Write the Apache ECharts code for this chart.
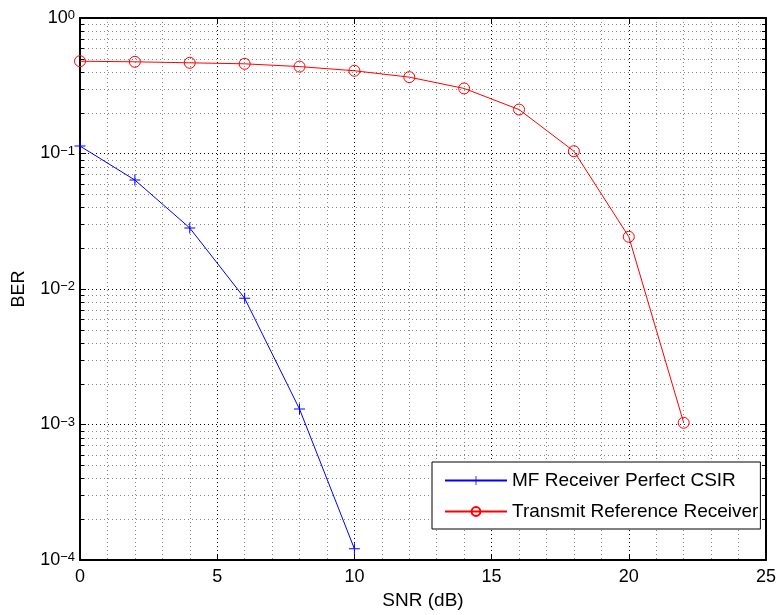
<!DOCTYPE html>
<html>
<head>
<meta charset="utf-8">
<script src="https://cdn.jsdelivr.net/npm/echarts@6/dist/echarts.min.js"></script>
<style>
html,body{margin:0;padding:0;background:#fff;}
#c{width:780px;height:615px;}
</style>
</head>
<body>
<div id="c"></div>
<script>
// ---- data ----
const mfSnr = [0, 2, 4, 6, 8, 10];
const mfBer = [0.1135, 0.0637, 0.0282, 0.00855, 0.0013, 0.000121];
const trSnr = [0, 2, 4, 6, 8, 10, 12, 14, 16, 18, 20, 22];
const trBer = [0.48, 0.475, 0.467, 0.459, 0.438, 0.408, 0.366, 0.302, 0.211, 0.104, 0.0243, 0.00103];
const seriesNames = ['MF Receiver Perfect CSIR', 'Transmit Reference Receiver'];
const xTicks = [0, 5, 10, 15, 20, 25];
const yDecades = [-4, -3, -2, -1, 0];
const minorMult = [2, 3, 4, 5, 6, 7, 8, 9];

const X_MIN = xTicks[0], X_MAX = xTicks[xTicks.length - 1];
const minorVals = [];
yDecades.slice(0, -1).forEach(d => minorMult.forEach(m => minorVals.push(m * Math.pow(10, d))));

const font = 'Liberation Sans, Arial, Helvetica, sans-serif';
const chart = echarts.init(document.getElementById('c'), null, {renderer: 'canvas'});

const plusPath = 'path://M0,4.55H10V5.45H0Z M4.55,0H5.45V10H4.55Z';

function yLabel(v) {
  const e = Math.round(Math.log10(v));
  return '{b|10}{s|' + (e === 0 ? '0' : '\u2212' + (-e)) + '}';
}

const commonX = {
  type: 'value', min: X_MIN, max: X_MAX, interval: 5,
  axisLine: {show: true, onZero: false, lineStyle: {color: '#000', width: 2}},
  axisTick: {show: true, inside: true, length: 6, lineStyle: {color: '#000'}},
};
const commonY = {
  type: 'log', logBase: 10, min: 1e-4, max: 1, interval: 1,
  axisLine: {show: true, onZero: false, lineStyle: {color: '#000', width: 2}},
  axisTick: {show: true, inside: true, length: 6, lineStyle: {color: '#000'}},
};

const option = {
  animation: false,
  backgroundColor: '#fff',
  textStyle: {fontFamily: font},
  grid: {left: 80, right: 14, top: 18, bottom: 53, containLabel: false},
  xAxis: [
    Object.assign({}, commonX, {
      position: 'bottom',
      name: 'SNR (dB)', nameLocation: 'middle', nameGap: 31,
      nameTextStyle: {fontSize: 19, color: '#000', fontFamily: font},
      axisLabel: {show: true, fontSize: 18, color: '#000', margin: 8, fontFamily: font},
      splitLine: {show: true, lineStyle: {color: '#000', type: [1, 3], width: 1}},
      minorTick: {show: false, splitNumber: 5},
      minorSplitLine: {show: true, lineStyle: {color: '#888', type: [1, 3], width: 1}}
    }),
    Object.assign({}, commonX, {
      position: 'top',
      axisLabel: {show: false},
      splitLine: {show: false}
    })
  ],
  yAxis: [
    Object.assign({}, commonY, {
      position: 'left',
      name: 'BER', nameLocation: 'middle', nameGap: 52, nameRotate: 90,
      nameTextStyle: {fontSize: 18, color: '#000', fontFamily: font},
      axisLabel: {
        show: true, margin: 5, formatter: yLabel,
        rich: {
          b: {fontSize: 18, color: '#000', fontFamily: font, lineHeight: 18},
          s: {fontSize: 13, color: '#000', fontFamily: font, verticalAlign: 'top', lineHeight: 13, padding: [0, 0, 6, 0]}
        }
      },
      splitLine: {show: true, lineStyle: {color: '#000', type: [1, 3], width: 1}}
    }),
    Object.assign({}, commonY, {
      position: 'right',
      axisLabel: {show: false},
      splitLine: {show: false}
    })
  ],
  legend: {
    orient: 'vertical', left: 432, top: 462,
    data: seriesNames,
    backgroundColor: '#fff', borderColor: '#000', borderWidth: 1, borderRadius: 0,
    padding: [9, 2, 8, 12], itemGap: 12, itemWidth: 62, itemHeight: 11,
    textStyle: {fontSize: 19, color: '#000', fontFamily: font}
  },
  series: [
    {
      type: 'custom', name: 'minorGrid', silent: true, z: 1,
      xAxisIndex: 0, yAxisIndex: 0,
      data: minorVals.map(v => [X_MIN, v]),
      encode: {x: 0, y: 1},
      renderItem: function (params, api) {
        const v = api.value(1);
        const p0 = api.coord([X_MIN, v]);
        const p1 = api.coord([X_MAX, v]);
        const y = Math.round(p0[1]) + 0.5;
        return {
          type: 'group',
          children: [
            {type: 'line', shape: {x1: p0[0], y1: y, x2: p1[0], y2: y},
             style: {stroke: '#888', lineWidth: 1, lineDash: [1, 3]}},
            {type: 'line', shape: {x1: p0[0], y1: y, x2: p0[0] + 4, y2: y},
             style: {stroke: '#000', lineWidth: 1}},
            {type: 'line', shape: {x1: p1[0], y1: y, x2: p1[0] - 4, y2: y},
             style: {stroke: '#000', lineWidth: 1}}
          ]
        };
      }
    },
    {
      type: 'line', name: seriesNames[0], z: 5,
      data: mfSnr.map((s, i) => [s, mfBer[i]]),
      symbol: plusPath, symbolSize: 11,
      lineStyle: {color: '#0000ff', width: 1},
      itemStyle: {color: '#0000ff'},
      showAllSymbol: true
    },
    {
      type: 'line', name: seriesNames[1], z: 5,
      data: trSnr.map((s, i) => [s, trBer[i]]),
      symbol: 'circle', symbolSize: 11,
      lineStyle: {color: '#ff0000', width: 1},
      itemStyle: {color: 'rgba(0,0,0,0)', borderColor: '#ff0000', borderWidth: 1},
      showAllSymbol: true
    }
  ]
};
chart.setOption(option);
</script>
</body>
</html>
